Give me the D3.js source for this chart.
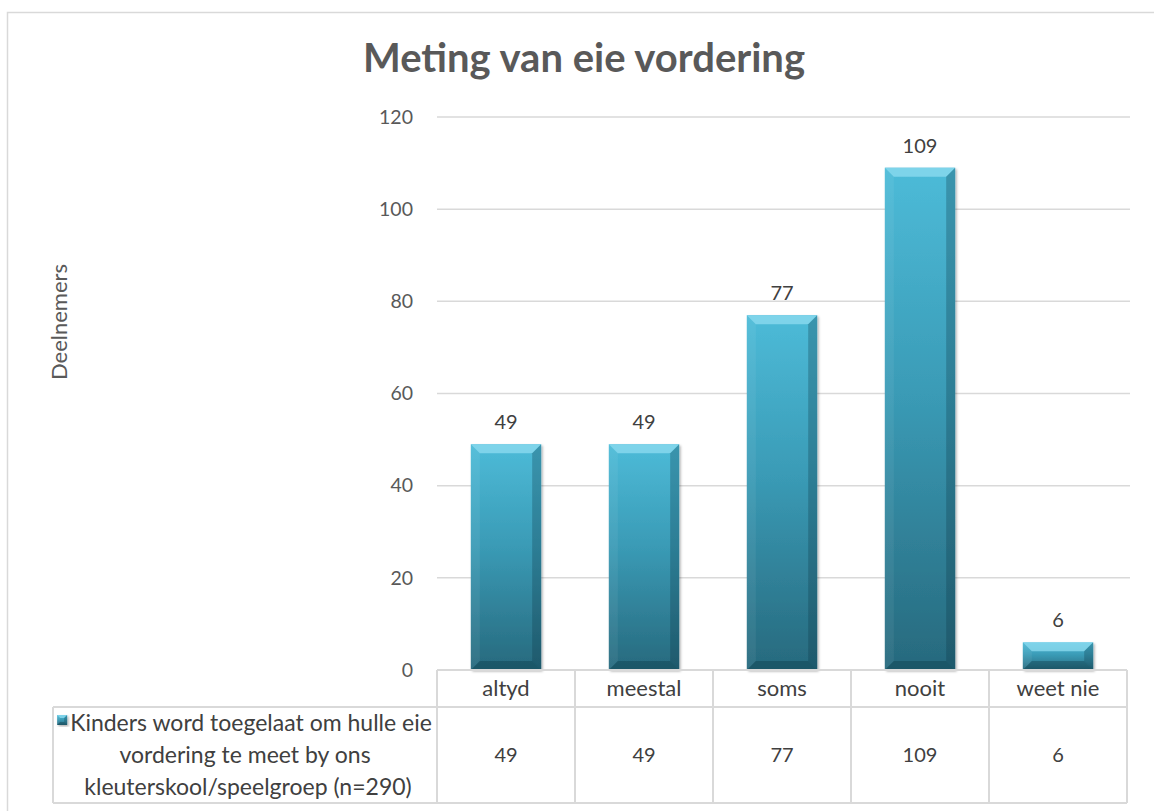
<!DOCTYPE html>
<html>
<head>
<meta charset="utf-8">
<script src="https://cdn.jsdelivr.net/npm/d3@7"></script>
<style>
  html, body { margin: 0; padding: 0; background: #ffffff; }
  svg { display: block; font-family: Lato, "Open Sans", sans-serif; }
</style>
</head>
<body>
<svg id="chart" width="1154" height="811"></svg>
<script>
// Survey responses: how often children measure their own progress
const categories = ["altyd", "meestal", "soms", "nooit", "weet nie"];
const values = [49, 49, 77, 109, 6];
const yTicks = [0, 20, 40, 60, 80, 100, 120];
const seriesName = ["Kinders word toegelaat om hulle eie", "vordering te meet by ons", "kleuterskool/speelgroep (n=290)"];
const chartTitle = "Meting van eie vordering";
const yTitle = "Deelnemers";

const svg = d3.select("#chart");
const W = 1154, H = 811;
const plot = { left: 437, right: 1127, top: 117, bottom: 670 };
const table = { legendLeft: 53, rowTop: 670, rowMid: 707, rowBottom: 803 };
const textColor = "#595959";
const lineColor = "#d9d9d9";

// chart frame
svg.append("rect")
  .attr("x", 7.5).attr("y", 12.5)
  .attr("width", W + 20).attr("height", H + 20)
  .attr("fill", "#ffffff").attr("stroke", "#d9d9d9").attr("stroke-width", 1.5);

const x = d3.scaleBand()
  .domain(categories)
  .range([plot.left, plot.right])
  .paddingInner(0.49)
  .paddingOuter(0.245);

const y = d3.scaleLinear()
  .domain([0, 120])
  .range([plot.bottom, plot.top]);

// defs: bar gradient and shadow
const defs = svg.append("defs");
const g1 = defs.append("linearGradient").attr("id", "barFill")
  .attr("x1", 0).attr("y1", 0).attr("x2", 0).attr("y2", 1);
g1.append("stop").attr("offset", "0%").attr("stop-color", "#4dbbd8");
g1.append("stop").attr("offset", "45%").attr("stop-color", "#3a9bb6");
g1.append("stop").attr("offset", "100%").attr("stop-color", "#27697d");

const shadow = defs.append("filter").attr("id", "barShadow")
  .attr("x", "-10%").attr("y", "-10%").attr("width", "130%").attr("height", "130%");
shadow.append("feDropShadow").attr("dx", 1.5).attr("dy", 1.5)
  .attr("stdDeviation", 1.2).attr("flood-color", "#000").attr("flood-opacity", 0.3);

// gridlines
svg.append("g")
  .selectAll("line")
  .data(yTicks.slice(1))
  .join("line")
  .attr("x1", plot.left).attr("x2", plot.right + 3)
  .attr("y1", d => y(d)).attr("y2", d => y(d))
  .attr("stroke", lineColor).attr("stroke-width", 1.5);

// y axis tick labels
const yAxis = d3.axisLeft(y).tickValues(yTicks).tickSize(0).tickPadding(24);
const yg = svg.append("g").attr("transform", `translate(${plot.left},0)`).call(yAxis);
yg.select(".domain").remove();
yg.selectAll("text")
  .attr("fill", textColor)
  .style("font-size", "19.5px")
  .style("font-family", "Lato, sans-serif");

// bevelled bar drawing
function bevelBar(g, x0, y0, w, h, b) {
  b = Math.min(b, h / 2, w / 2);
  g.append("rect").attr("x", x0).attr("y", y0).attr("width", w).attr("height", h)
    .attr("fill", "url(#barFill)").attr("filter", "url(#barShadow)");
  // top facet
  g.append("polygon")
    .attr("points", [[x0, y0], [x0 + w, y0], [x0 + w - b, y0 + b], [x0 + b, y0 + b]].join(" "))
    .attr("fill", "#8fdcf0").attr("opacity", 0.75);
  // left facet
  g.append("polygon")
    .attr("points", [[x0, y0], [x0 + b, y0 + b], [x0 + b, y0 + h - b], [x0, y0 + h]].join(" "))
    .attr("fill", "#ffffff").attr("opacity", 0.06);
  // right facet
  g.append("polygon")
    .attr("points", [[x0 + w, y0], [x0 + w - b, y0 + b], [x0 + w - b, y0 + h - b], [x0 + w, y0 + h]].join(" "))
    .attr("fill", "#0a3440").attr("opacity", 0.28);
  // bottom facet
  g.append("polygon")
    .attr("points", [[x0, y0 + h], [x0 + b, y0 + h - b], [x0 + w - b, y0 + h - b], [x0 + w, y0 + h]].join(" "))
    .attr("fill", "#0a3440").attr("opacity", 0.35);
}

const barsG = svg.append("g");
categories.forEach((c, i) => {
  const g = barsG.append("g");
  bevelBar(g, x(c), y(values[i]), x.bandwidth(), y(0) - y(values[i]), 9);
});

// data labels
svg.append("g")
  .selectAll("text")
  .data(values)
  .join("text")
  .attr("x", (d, i) => x(categories[i]) + x.bandwidth() / 2)
  .attr("y", d => y(d) - 15)
  .attr("text-anchor", "middle")
  .attr("fill", "#404040")
  .style("font-size", "20px")
  .text(d => d);

// data table lines
const tg = svg.append("g").attr("stroke", lineColor).attr("stroke-width", 2).attr("fill", "none");
tg.append("line").attr("x1", plot.left).attr("x2", plot.right).attr("y1", table.rowTop).attr("y2", table.rowTop);
tg.append("line").attr("x1", table.legendLeft).attr("x2", plot.right).attr("y1", table.rowMid).attr("y2", table.rowMid);
tg.append("line").attr("x1", table.legendLeft).attr("x2", plot.right).attr("y1", table.rowBottom).attr("y2", table.rowBottom);
tg.append("line").attr("x1", table.legendLeft).attr("x2", table.legendLeft).attr("y1", table.rowMid).attr("y2", table.rowBottom);
const step = x.step();
const colEdges = d3.range(categories.length + 1).map(i => plot.left + i * step);
tg.selectAll("line.col").data(colEdges).join("line").attr("class", "col")
  .attr("x1", d => d).attr("x2", d => d)
  .attr("y1", table.rowTop).attr("y2", table.rowBottom);

// category row
svg.append("g")
  .selectAll("text")
  .data(categories)
  .join("text")
  .attr("x", d => x(d) + x.bandwidth() / 2)
  .attr("y", table.rowTop + 26)
  .attr("text-anchor", "middle")
  .attr("fill", "#404040")
  .style("font-size", "22px")
  .text(d => d);

// value row
svg.append("g")
  .selectAll("text")
  .data(values)
  .join("text")
  .attr("x", (d, i) => x(categories[i]) + x.bandwidth() / 2)
  .attr("y", (table.rowMid + table.rowBottom) / 2 + 7)
  .attr("text-anchor", "middle")
  .attr("fill", "#404040")
  .style("font-size", "20px")
  .text(d => d);

// legend cell: key + series name
const lg = svg.append("g");
const lineYs = [731, 763, 795];
const lineCx = [251, 245, 248];
seriesName.forEach((t, i) => {
  lg.append("text")
    .attr("x", lineCx[i])
    .attr("y", lineYs[i])
    .attr("text-anchor", "middle")
    .attr("fill", "#404040")
    .style("font-size", "23px")
    .text(t);
});
// legend key placed just left of the first line
const firstLine = lg.select("text").node().getBBox();
const keyG = lg.append("g");
bevelBar(keyG, firstLine.x - 13, 715, 10, 10, 3);

// y axis title
svg.append("text")
  .attr("transform", `translate(67,322) rotate(-90)`)
  .attr("text-anchor", "middle")
  .attr("fill", textColor)
  .style("font-size", "22px")
  .text(yTitle);

// chart title
svg.append("text")
  .attr("x", 584)
  .attr("y", 72)
  .attr("text-anchor", "middle")
  .attr("fill", textColor)
  .style("font-size", "40px")
  .style("font-weight", "bold")
  .text(chartTitle);
</script>
</body>
</html>
